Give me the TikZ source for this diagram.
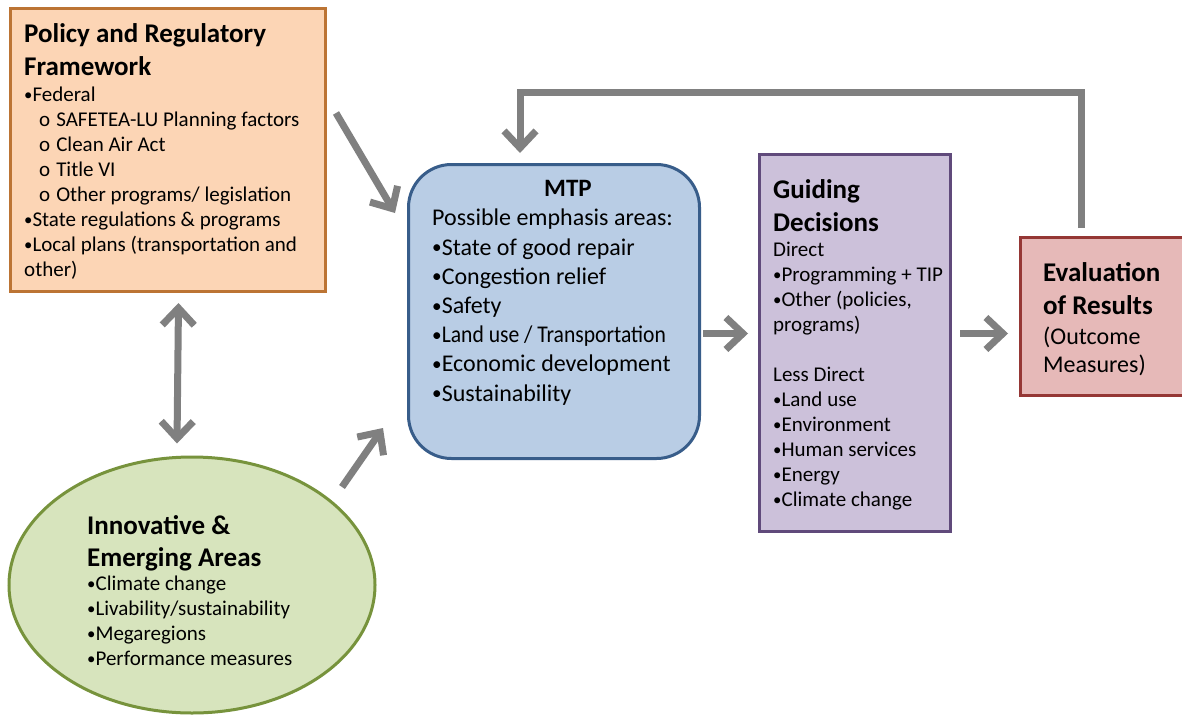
\documentclass[tikz,border=0pt]{standalone}
\usepackage{fontspec}
\setmainfont{Carlito}
\usetikzlibrary{arrows.meta,shapes.geometric}
\definecolor{polfill}{HTML}{FCD5B5}
\definecolor{poldraw}{HTML}{BC7434}
\definecolor{mtpfill}{HTML}{B9CDE5}
\definecolor{mtpdraw}{HTML}{385D8A}
\definecolor{gdfill}{HTML}{CCC1DA}
\definecolor{gddraw}{HTML}{604A7B}
\definecolor{evfill}{HTML}{E6B9B8}
\definecolor{evdraw}{HTML}{953735}
\definecolor{elfill}{HTML}{D7E4BD}
\definecolor{eldraw}{HTML}{77933C}
\definecolor{arrowgray}{HTML}{808080}
\newcommand{\headfont}{\fontsize{27}{33}\selectfont\bfseries}
\newcommand{\bodyfont}{\fontsize{21}{25}\selectfont}
\newcommand{\mtpfont}{\fontsize{24}{29.2}\selectfont}
\newcommand{\bul}{\raisebox{0.12ex}{\scalebox{0.8}{•}}}
\tikzset{
  >={Straight Barb[length=17pt,width=32pt]},
}
\tikzstyle{box}=[line width=3pt,inner sep=0pt,anchor=north west]
\tikzstyle{headtext}=[font=\headfont,align=left,inner sep=0pt,anchor=north west]
\tikzstyle{bodytext}=[font=\bodyfont,align=left,inner sep=0pt,anchor=north west]
\tikzstyle{flow}=[line width=7pt,arrowgray,->]

\begin{document}
\begin{tikzpicture}[x=1pt,y=-1pt]
    \useasboundingbox[fill=white] (0,0) rectangle (1182,717);
    % boxes
    \node[box,draw=poldraw,fill=polfill,minimum width=315pt,minimum height=283pt] (pol) at (9,7) {};
    \node[box,draw=mtpdraw,fill=mtpfill,rounded corners=43pt,minimum width=291pt,minimum height=294pt] (mtp) at (407,163) {};
    \node[box,draw=gddraw,fill=gdfill,minimum width=191pt,minimum height=377pt] (gd) at (758,153) {};
    \node[box,draw=evdraw,fill=evfill,minimum width=180pt,minimum height=158pt] (ev) at (1019,236) {};
    \node[ellipse,line width=3pt,draw=eldraw,fill=elfill,inner sep=0pt,minimum width=366pt,minimum height=256pt] (ell) at (192,585) {};
    % texts
    \node[headtext] (polhead) at (24,23) {Policy and Regulatory\\Framework};
    \node[bodytext] (polbody) at (24,87) {%
      \bul Federal\\
      \hspace*{15pt}o\hspace{6pt}SAFETEA-LU Planning factors\\
      \hspace*{15pt}o\hspace{6pt}Clean Air Act\\
      \hspace*{15pt}o\hspace{6pt}Title VI\\
      \hspace*{15pt}o\hspace{6pt}Other programs/ legislation\\
      \bul State regulations \& programs\\
      \bul Local plans (transportation and\\
      other)};
    \node[font=\fontsize{25}{30}\selectfont\bfseries,inner sep=0pt] (mtphead) at (568,188) {MTP};
    \node[bodytext,font=\mtpfont] (mtpbody) at (432,209) {%
      Possible emphasis areas:\\
      \bul State of good repair\\
      \bul Congestion relief\\
      \bul Safety\\
      \bul\scalebox{0.9}[1]{Land use / Transportation}\\
      \bul Economic development\\
      \bul Sustainability};
    \node[headtext] (gdhead) at (773,179) {Guiding\\Decisions};
    \node[bodytext] (gdbody) at (773,242) {%
      Direct\\
      \bul Programming + TIP\\
      \bul Other (policies,\\
      programs)\\[25pt]
      Less Direct\\
      \bul Land use\\
      \bul Environment\\
      \bul Human services\\
      \bul Energy\\
      \bul Climate change};
    \node[headtext] (evhead) at (1043,262) {Evaluation\\of Results};
    \node[bodytext,font=\fontsize{24}{28}\selectfont] (evbody) at (1043,327) {(Outcome\\Measures)};
    \node[headtext,font=\fontsize{27}{32}\selectfont\bfseries] (elhead) at (87,515) {Innovative \&\\Emerging Areas};
    \node[bodytext] (elbody) at (87,576) {%
      \bul Climate change\\
      \bul Livability/sustainability\\
      \bul Megaregions\\
      \bul Performance measures};
    % arrows
    \draw[flow] ([shift={(9,106)}]pol.north east) -- ([shift={(-12,50)}]mtp.north west);
    \draw[flow,<->] ([shift={(10.5,10)}]pol.south) -- ([shift={(-15,-12)}]ell.north);
    \draw[flow] ([shift={(150,-98)}]ell.center) -- ([shift={(-24,-32)}]mtp.south west);
    \draw[flow] ([shift={(2,22)}]mtp.east) -- ([shift={(-10,-9.5)}]gd.west);
    \draw[flow] ([shift={(8,-9.5)}]gd.east) -- ([shift={(-11,17)}]ev.west);
    \draw[flow] ([shift={(62,-8)}]ev.north west) -- ++(0,-136) -| ([shift={(113,-10)}]mtp.north west);
  \end{tikzpicture}
\end{document}
